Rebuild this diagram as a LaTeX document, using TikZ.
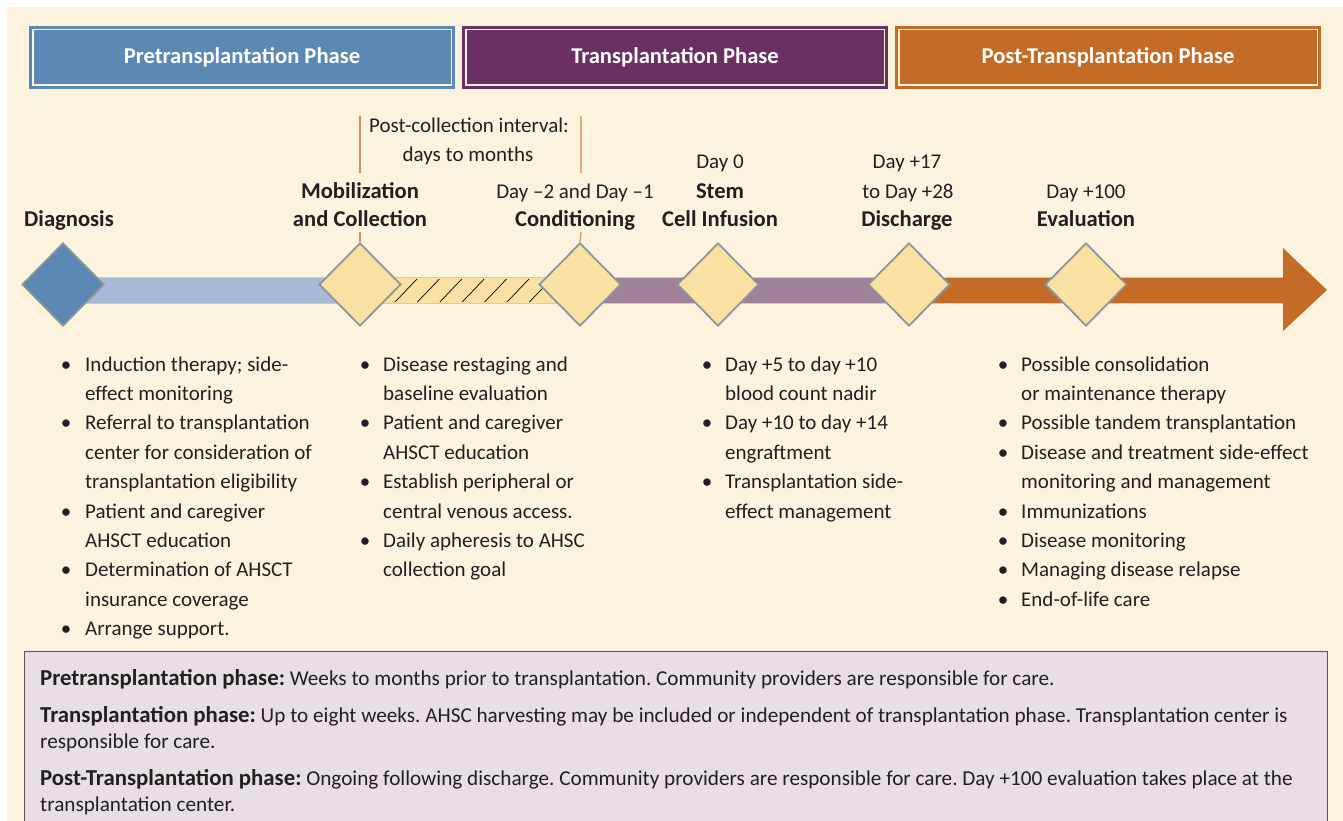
\documentclass[tikz,border=0pt]{standalone}
\usepackage{fontspec}
\setmainfont{Carlito}
\usetikzlibrary{shapes.geometric,calc}
\definecolor{bg}{HTML}{FCF3DE}
\definecolor{hblue}{HTML}{5B89B4}
\definecolor{hpurp}{HTML}{6A2F63}
\definecolor{horng}{HTML}{C46C27}
\definecolor{lblue}{HTML}{A6BAD6}
\definecolor{yel}{HTML}{F9E0A3}
\definecolor{purpbar}{HTML}{A0809B}
\definecolor{dgray}{HTML}{8C9599}
\definecolor{boxf}{HTML}{E8DFE6}
\definecolor{boxc}{HTML}{58585A}
\definecolor{tick}{HTML}{D38C52}
\definecolor{txt}{HTML}{231F20}
\definecolor{baredge}{HTML}{E8C59C}
\newcommand\bcol[4]{%
  \foreach \b/\t [count=\i] in {#4} {%
    \node[btxt] (#1t\i) at (#3,{371+(\i-1)*29.4}) {\t};
    \ifnum\b=1 \node[bdot] (#1b\i) at (#2,{371+(\i-1)*29.4}) {\textbullet};\fi
  }}
\newcommand\bhead[1]{{\fontsize{22.8}{26}\selectfont\bfseries #1}}
\begin{document}
\frenchspacing
\begin{tikzpicture}[x=1pt,y=-1pt,
  hdr/.style={minimum width=426, minimum height=63, inner sep=0, text=white,
    font=\fontsize{22.6}{26}\selectfont\bfseries},
  dmd/.style={diamond, aspect=1, minimum width=82, minimum height=83, inner sep=0,
    draw=dgray, line width=1.8, fill=yel},
  lbl/.style={inner sep=0, anchor=base, text=txt, font=\fontsize{21}{25}\selectfont},
  lblb/.style={lbl, font=\fontsize{22.6}{26}\selectfont\bfseries},
  btxt/.style={inner sep=0, anchor=base west, text=txt, font=\fontsize{21}{25}\selectfont},
  bdot/.style={inner sep=0, anchor=base, text=txt, font=\fontsize{21}{25}\selectfont},
  ntxt/.style={inner sep=0, anchor=base west, text=txt, font=\fontsize{21.2}{25}\selectfont},
]
\useasboundingbox (0,0) rectangle (1343,821);
\fill[white] (0,0) rectangle (1343,821);
\fill[bg] (7,7) rectangle (1343,821);

% headers
\node[hdr, fill=hblue] (h1) at (242,57.5) {Pretransplantation Phase};
\node[hdr, fill=hpurp] (h2) at (675,57.5) {Transplantation Phase};
\node[hdr, fill=horng] (h3) at (1108,57.5) {Post-Transplantation Phase};
\foreach \h in {h1,h2,h3}
  \draw[bg, line width=1.4] ($(\h.north west)+(4,4)$) rectangle ($(\h.south east)+(-4,-4)$);

% timeline bar
\fill[lblue] (63,277) rectangle (360,303);
\fill[yel] (360,277) rectangle (580,303);
\fill[purpbar] (580,277) rectangle (909,303);
\fill[horng] (909,277) -- (1283,277) -- (1283,248) -- (1327,290) -- (1283,331) -- (1283,303) -- (909,303) -- cycle;
\draw[baredge, line width=0.8] (63,277) -- (1283,277);
\draw[baredge, line width=0.8] (63,303) -- (1283,303);
\foreach \k in {0,...,6}
  \draw[black, line width=0.7] ({395+22.4*\k},302) -- ++(22,-23);

% diamonds
\node[dmd, fill=hblue] (dg) at (63,284.5) {};
\node[dmd] (mob) at (360,284.5) {};
\node[dmd] (cond) at (580,284.5) {};
\node[dmd] (stem) at (718,284.5) {};
\node[dmd] (dis) at (909,284.5) {};
\node[dmd] (eval) at (1086,284.5) {};

% interval ticks
\coordinate (t1a) at (360,116); \coordinate (t1b) at (360,173); \coordinate (t1c) at (360,232);
\coordinate (t2a) at (581,116); \coordinate (t2b) at (581,173); \coordinate (t2c) at (581,232);
\draw[tick, line width=1.2] (t1a) -- (t1b) (t1c) -- (mob.north);
\draw[tick, line width=1.2] (t2a) -- (t2b) (t2c) -- (cond.north);

% labels
\node[lbl] (pc1) at (469,133) {Post-collection interval:};
\node[lbl] (pc2) at (468,162) {days to months};
\node[lblb] (ldg) at (69,226) {Diagnosis};
\node[lblb] (lmob1) at (360,198) {Mobilization};
\node[lblb] (lmob2) at (360,226) {and Collection};
\node[lbl] (lc1) at (575,198) {Day –2 and Day –1};
\node[lblb] (lc2) at (575,226) {Conditioning};
\node[lbl] (ls1) at (720,169) {Day 0};
\node[lblb] (ls2) at (720,198) {Stem};
\node[lblb] (ls3) at (720,226) {Cell Infusion};
\node[lbl] (ld1) at (907,169) {Day +17};
\node[lbl] (ld2) at (908,198) {to Day +28};
\node[lblb] (ld3) at (907,226) {Discharge};
\node[lbl] (le1) at (1086,198) {Day +100};
\node[lblb] (le2) at (1086,226) {Evaluation};

% bullet columns
\bcol{a}{66}{85}{1/Induction therapy; side-, 0/effect monitoring, 1/Referral to transplantation, 0/center for consideration of, 0/transplantation eligibility, 1/Patient and caregiver, 0/AHSCT education, 1/Determination of AHSCT, 0/insurance coverage, 1/Arrange support.}
\bcol{b}{365}{383}{1/Disease restaging and, 0/baseline evaluation, 1/Patient and caregiver, 0/AHSCT education, 1/Establish peripheral or, 0/central venous access., 1/Daily apheresis to AHSC, 0/collection goal}
\bcol{c}{707}{725}{1/Day +5 to day +10, 0/blood count nadir, 1/Day +10 to day +14, 0/engraftment, 1/Transplantation side-, 0/effect management}
\bcol{d}{1003}{1021}{1/Possible consolidation, 0/or maintenance therapy, 1/Possible tandem transplantation, 1/Disease and treatment side-effect, 0/monitoring and management, 1/Immunizations, 1/Disease monitoring, 1/Managing disease relapse, 1/End-of-life care}

% bottom box
\draw[boxc, fill=boxf, line width=0.9] (24,651) rectangle (1327,830);
\node[ntxt] (n1) at (40,685) {\bhead{Pretransplantation phase:} Weeks to months prior to transplantation. Community providers are responsible for care.};
\node[ntxt] (n2) at (40,722) {\bhead{Transplantation phase:} Up to eight weeks. AHSC harvesting may be included or independent of transplantation phase. Transplantation center is};
\node[ntxt] (n3) at (40,748) {responsible for care.};
\node[ntxt] (n4) at (40,785) {\bhead{Post-Transplantation phase:} Ongoing following discharge. Community providers are responsible for care. Day +100 evaluation takes place at the};
\node[ntxt] (n5) at (40,811) {transplantation center.};
\end{tikzpicture}
\end{document}
